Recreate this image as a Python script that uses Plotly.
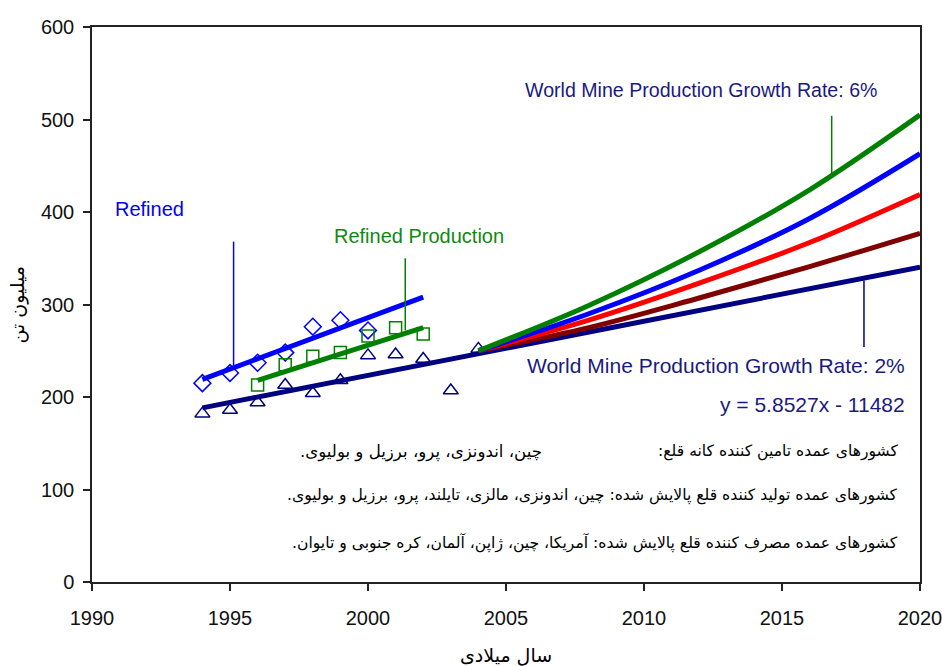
import plotly.graph_objects as go

# ---------------- data ----------------
consumption_years = [1994, 1995, 1996, 1997, 1998, 1999, 2000]
consumption_vals = [215, 226, 237, 248, 276, 283, 272]

production_years = [1996, 1997, 1998, 1999, 2000, 2001, 2002]
production_vals = [213, 235, 244, 248, 266, 275, 268]

mine_years = [1994, 1995, 1996, 1997, 1998, 1999, 2000, 2001, 2002, 2003, 2004]
mine_vals = [182, 186, 194, 213, 204, 218, 245, 246, 241, 207, 252]

consumption_trend_years = [1994, 2002]
consumption_trend_vals = [219, 308]
production_trend_years = [1996, 2002]
production_trend_vals = [218, 275]

mine_trend_slope = 5.8527
mine_trend_intercept = -11482
mine_trend_years = [1994, 2020]

proj_years = [2004, 2008, 2012, 2016, 2020]
proj_6 = [250, 299, 357, 424, 505]
proj_5 = [250, 290, 337, 393, 463]
proj_4 = [250, 283, 323, 367, 419]
proj_3 = [250, 275, 307, 341, 377]

x_ticks = [1990, 1995, 2000, 2005, 2010, 2015, 2020]
y_ticks = [0, 100, 200, 300, 400, 500, 600]

# ---------------- figure ----------------
NAVY = "#000080"
BLUE = "#0000ff"
GREEN = "#008000"
RED = "#ff0000"
MAROON = "#800000"
LAT = "Liberation Sans, Arial, sans-serif"
FA = "DejaVu Sans, sans-serif"
RLM = "\u200f"

fig = go.Figure()

fig.add_trace(go.Scatter(x=consumption_years, y=consumption_vals, mode="markers",
                         marker=dict(symbol="diamond-open", size=13, color=BLUE, line=dict(width=1.5, color=BLUE))))
fig.add_trace(go.Scatter(x=production_years, y=production_vals, mode="markers",
                         marker=dict(symbol="square-open", size=12, color=GREEN, line=dict(width=1.5, color=GREEN))))
fig.add_trace(go.Scatter(x=mine_years, y=mine_vals, mode="markers",
                         marker=dict(symbol="triangle-up-open", size=13, color=NAVY, line=dict(width=1.5, color=NAVY))))

mine_trend_vals = [mine_trend_slope * yr + mine_trend_intercept for yr in mine_trend_years]
fig.add_trace(go.Scatter(x=mine_trend_years, y=mine_trend_vals, mode="lines",
                         line=dict(color=NAVY, width=5)))
for vals, col in [(proj_3, MAROON), (proj_4, RED), (proj_5, BLUE), (proj_6, GREEN)]:
    fig.add_trace(go.Scatter(x=proj_years, y=vals, mode="lines", line_shape="spline",
                             line=dict(color=col, width=5)))

fig.add_trace(go.Scatter(x=consumption_trend_years, y=consumption_trend_vals, mode="lines",
                         line=dict(color=BLUE, width=5)))
fig.add_trace(go.Scatter(x=production_trend_years, y=production_trend_vals, mode="lines",
                         line=dict(color=GREEN, width=5)))

# leader lines
leaders = [
    (1995.13, 368, 232, BLUE),
    (2001.35, 350, 272, GREEN),
    (2016.8, 504, 441, GREEN),
    (2017.97, 326, 254, NAVY),
]
for x, y0, y1, col in leaders:
    fig.add_shape(type="line", xref="x", yref="y", x0=x, x1=x, y0=y0, y1=y1,
                  line=dict(color=col, width=1.5))

FA_SIZE = 15.6
ann = [
    dict(x=1990.76, y=403, text="Refined", xanchor="left", font=dict(color=BLUE, size=20, family=LAT)),
    dict(x=1998.70, y=374, text="Refined Production", xanchor="left", font=dict(color="#118811", size=20, family=LAT)),
    dict(x=2005.61, y=532, text="World Mine Production Growth Rate: 6%", xanchor="left",
         font=dict(color="#1a1a80", size=19.6, family=LAT)),
    dict(x=2019.53, y=234, text="World Mine Production Growth Rate: 2%", xanchor="right",
         font=dict(color="#1a1a80", size=21, family=LAT)),
    dict(x=2019.53, y=192, text="y = 5.8527x - 11482", xanchor="right",
         font=dict(color="#1a1a80", size=21, family=LAT)),
    dict(x=2019.28, y=141, text=RLM + "کشورهای عمده تامین کننده کانه قلع:" + RLM, xanchor="right",
         font=dict(color="black", size=FA_SIZE, family=FA)),
    dict(x=2006.38, y=141, text=RLM + "چین، اندونزی، پرو، برزیل و بولیوی." + RLM, xanchor="right",
         font=dict(color="black", size=FA_SIZE + 1, family=FA)),
    dict(x=2019.28, y=93,
         text=RLM + "کشورهای عمده تولید کننده قلع پالایش شده: چین، اندونزی، مالزی، تایلند، پرو، برزیل و بولیوی." + RLM,
         xanchor="right", font=dict(color="black", size=FA_SIZE, family=FA)),
    dict(x=2019.28, y=42,
         text=RLM + "کشورهای عمده مصرف کننده قلع پالایش شده: آمریکا، چین، ژاپن، آلمان، کره جنوبی و تایوان." + RLM,
         xanchor="right", font=dict(color="black", size=FA_SIZE, family=FA)),
]
for a in ann:
    fig.add_annotation(xref="x", yref="y", showarrow=False, yanchor="middle", **a)

# axis titles
fig.add_annotation(xref="paper", yref="paper", x=0.5, y=-0.1315, text="سال میلادی", showarrow=False,
                   yanchor="middle", font=dict(size=19, family=FA, color="black"))
fig.add_annotation(xref="paper", yref="paper", x=-0.0894, y=0.5, text="میلیون تن", showarrow=False,
                   textangle=-90, xanchor="center", yanchor="middle",
                   font=dict(size=19, family=FA, color="black"))

axis_common = dict(showgrid=False, zeroline=False, showline=True, linecolor="#222", linewidth=1.5,
                   mirror=True, ticks="outside", ticklen=7, tickwidth=1.5, tickcolor="#222",
                   ticklabeloverflow="allow", automargin=False,
                   tickfont=dict(family=LAT, size=20, color="#111"))
fig.update_xaxes(range=[1990, 2020], tickvals=x_ticks, ticklabelstandoff=10, **axis_common)
fig.update_yaxes(range=[0, 600], tickvals=y_ticks, ticklabelstandoff=5, **axis_common)

fig.update_layout(width=942, height=666, margin=dict(l=92, r=22, t=27, b=84),
                  plot_bgcolor="white", paper_bgcolor="white", showlegend=False)

fig.write_html("out.html", config={"displayModeBar": False},
               post_script="document.body.style.margin='0';")
